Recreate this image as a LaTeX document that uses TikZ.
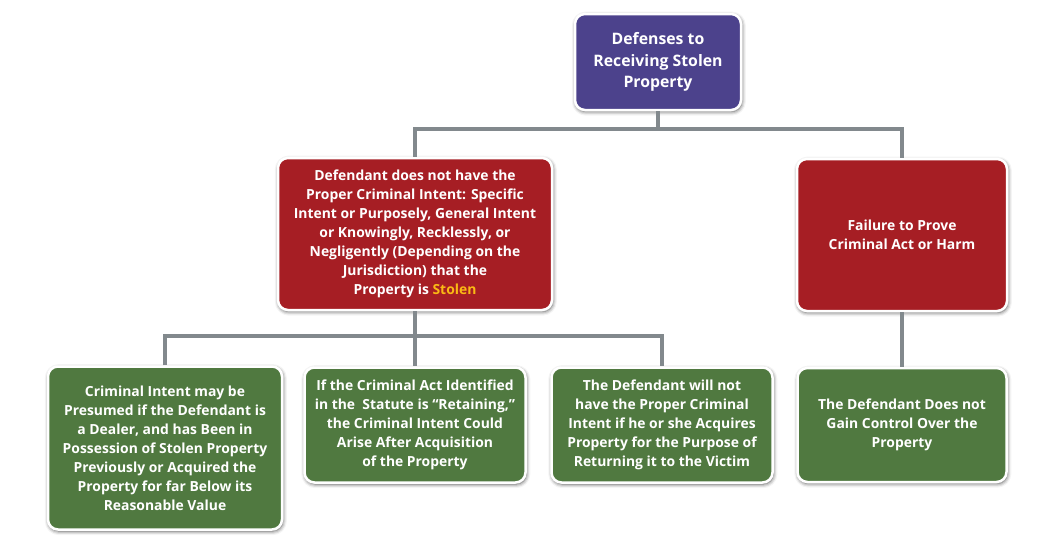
\documentclass[tikz,border=0pt]{standalone}
\usepackage{fontspec}
\setmainfont{Open Sans}
\usetikzlibrary{shadows.blur}
\definecolor{boxpurple}{RGB}{76,66,140}
\definecolor{boxred}{RGB}{166,30,36}
\definecolor{boxgreen}{RGB}{80,121,64}
\definecolor{linegray}{RGB}{130,137,141}
\definecolor{stolenyellow}{RGB}{250,185,20}
\begin{document}
\begin{tikzpicture}[x=1pt,y=-1pt,
  box/.style={rounded corners=10pt, draw=white, line width=2.5pt, text=white,
    align=center, font=\bfseries\fontsize{13.9}{19}\selectfont, inner sep=2pt,
    blur shadow={shadow xshift=0.8pt, shadow yshift=-1.6pt, shadow blur radius=4pt, shadow opacity=70}},
  topbox/.style={box, fill=boxpurple, font=\bfseries\fontsize{15.8}{21.5}\selectfont},
  redbox/.style={box, fill=boxred},
  greenbox/.style={box, fill=boxgreen},
  conn/.style={draw=linegray, line width=4pt}]
\useasboundingbox (0,0) rectangle (1050,544);
\node[topbox, minimum width=166pt, minimum height=96pt] (top) at (658,62)
  {Defenses to\\Receiving Stolen\\Property};
\node[redbox, minimum width=274pt, minimum height=152pt] (redL) at (415,234)
  {Defendant does not have the\\Proper Criminal Intent: Specific\\Intent or Purposely, General Intent\\or Knowingly, Recklessly, or\\Negligently (Depending on the\\Jurisdiction) that the\\Property is \textcolor{stolenyellow}{Stolen}};
\node[redbox, minimum width=210pt, minimum height=152pt] (redR) at (902,235)
  {Failure to Prove\\Criminal Act or Harm};
\node[greenbox, minimum width=234pt, minimum height=163pt] (g1) at (165,448)
  {Criminal Intent may be\\Presumed if the Defendant is\\a Dealer, and has Been in\\Possession of Stolen Property\\Previously or Acquired the\\Property for far Below its\\Reasonable Value};
\node[greenbox, minimum width=221pt, minimum height=115pt] (g2) at (415,425)
  {If the Criminal Act Identified\\in the \ Statute is “Retaining,”\\the Criminal Intent Could\\Arise After Acquisition\\of the Property};
\node[greenbox, minimum width=221pt, minimum height=115pt] (g3) at (662,425)
  {The Defendant will not\\have the Proper Criminal\\Intent if he or she Acquires\\Property for the Purpose of\\Returning it to the Victim};
\node[greenbox, minimum width=209pt, minimum height=114pt] (g4) at (902,425)
  {The Defendant Does not\\Gain Control Over the\\Property};
\coordinate (j1) at (658,129);
\coordinate (j2) at (415,336);
\path[conn] (top.south) -- (j1);
\path[conn] (redL.north) |- (j1) -| (redR.north);
\path[conn] (redL.south) -- (j2) -- (g2.north);
\path[conn] (g1.north) |- (j2) -| (g3.north);
\path[conn] (redR.south) -- (g4.north);
\end{tikzpicture}
\end{document}
